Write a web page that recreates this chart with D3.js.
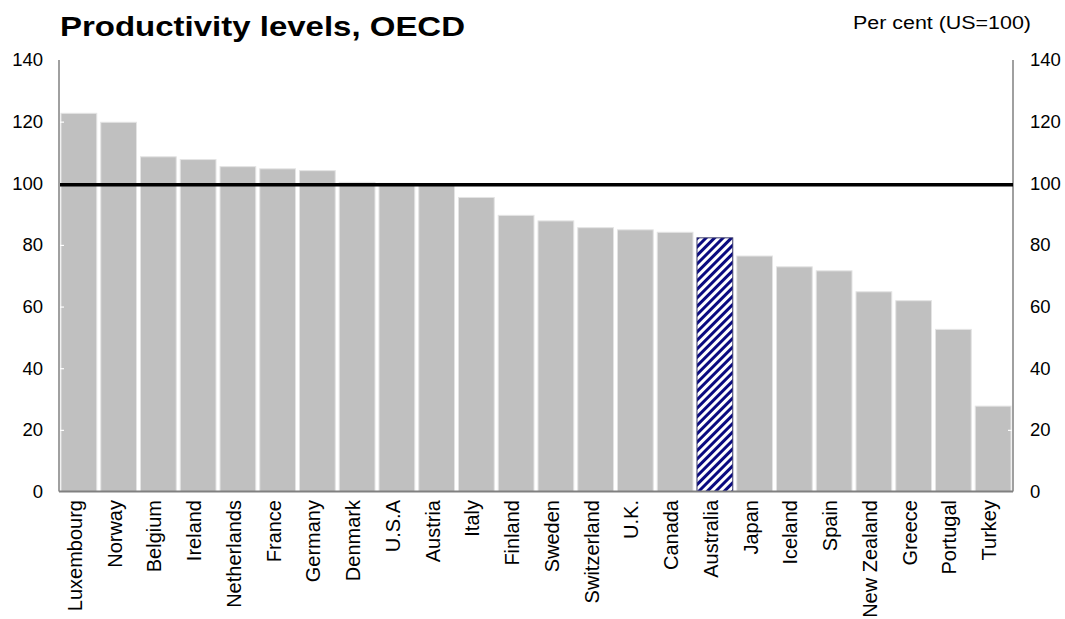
<!DOCTYPE html>
<html>
<head>
<meta charset="utf-8">
<script src="https://cdn.jsdelivr.net/npm/d3@7"></script>
<style>
  html, body { margin: 0; padding: 0; background: #fff; }
  svg { display: block; font-family: "Liberation Sans", Arial, sans-serif; }
</style>
</head>
<body>
<svg id="chart" width="1065" height="619"></svg>
<script>
// Labour productivity by country, per cent of the US level
const countries = ["Luxembourg", "Norway", "Belgium", "Ireland", "Netherlands", "France",
  "Germany", "Denmark", "U.S.A", "Austria", "Italy", "Finland", "Sweden", "Switzerland",
  "U.K.", "Canada", "Australia", "Japan", "Iceland", "Spain", "New Zealand", "Greece",
  "Portugal", "Turkey"];
const levels = [122.7, 119.8, 108.6, 107.7, 105.4, 104.7, 104.1, 100.3, 100, 99.4, 95.4,
  89.6, 87.8, 85.6, 84.9, 84.1, 82.3, 76.4, 72.9, 71.6, 64.8, 61.9, 52.6, 27.7];
const highlighted = ["Australia"];
const yTicks = [0, 20, 40, 60, 80, 100, 120, 140];
const usLevel = [100];

const svg = d3.select("#chart");
const plotLeft = 59, plotRight = 1013, plotTop = 60, plotBottom = 491.5;

const x = d3.scaleBand().domain(countries).range([plotLeft, plotRight])
  .paddingInner(0.1).paddingOuter(0.05);
const y = d3.scaleLinear().domain([0, 140]).range([plotBottom, plotTop]);

// Hatched fill for the highlighted country
const defs = svg.append("defs");
const pat = defs.append("pattern")
  .attr("id", "hatch").attr("patternUnits", "userSpaceOnUse")
  .attr("width", 6).attr("height", 6)
  .attr("patternTransform", "rotate(45)");
pat.append("rect").attr("width", 6).attr("height", 6).attr("fill", "#fff");
pat.append("rect").attr("width", 3).attr("height", 6).attr("fill", "#0a0a80");

const data = countries.map((c, i) => ({ country: c, value: levels[i] }));

svg.append("g").selectAll("rect").data(data).join("rect")
  .attr("x", d => x(d.country))
  .attr("width", x.bandwidth())
  .attr("y", d => y(d.value))
  .attr("height", d => y(0) - y(d.value))
  .attr("fill", d => highlighted.includes(d.country) ? "url(#hatch)" : "#c0c0c0")
  .attr("stroke", d => highlighted.includes(d.country) ? "#3a3a6a" : "#e4e4e4")
  .attr("stroke-width", 1);

// Axes: grey frame lines with short white inward ticks
const leftAxis = d3.axisLeft(y).tickValues(yTicks).tickSize(-5).tickPadding(16);
const rightAxis = d3.axisRight(y).tickValues(yTicks).tickSize(-5).tickPadding(17);

function styleAxis(g) {
  g.select(".domain").remove();
  g.selectAll(".tick line").attr("stroke", "#fff").attr("stroke-width", 1.2);
  g.selectAll(".tick text").attr("fill", "#000").style("font-size", "18.5px")
    .style("font-family", "'Liberation Sans', Arial, sans-serif");
}
svg.append("g").attr("transform", `translate(${plotLeft},0)`).call(leftAxis).call(styleAxis);
svg.append("g").attr("transform", `translate(${plotRight},0)`).call(rightAxis).call(styleAxis);

svg.append("line").attr("x1", plotLeft).attr("x2", plotLeft).attr("y1", plotTop).attr("y2", plotBottom)
  .attr("stroke", "#808080").attr("stroke-width", 1.5);
svg.append("line").attr("x1", plotRight).attr("x2", plotRight).attr("y1", plotTop).attr("y2", plotBottom)
  .attr("stroke", "#808080").attr("stroke-width", 1.5);
svg.append("line").attr("x1", plotLeft).attr("x2", plotRight).attr("y1", plotBottom).attr("y2", plotBottom)
  .attr("stroke", "#808080").attr("stroke-width", 2);

// US = 100 reference line
svg.append("g").selectAll("line").data(usLevel).join("line")
  .attr("x1", plotLeft + 1).attr("x2", plotRight)
  .attr("y1", d => y(d) + 1.5).attr("y2", d => y(d) + 1.5)
  .attr("stroke", "#000").attr("stroke-width", 3.5);

// Country labels, rotated
svg.append("g").selectAll("text").data(countries).join("text")
  .attr("transform", c => `translate(${x(c) + x.bandwidth() / 2 + 3},500) rotate(-90)`)
  .attr("text-anchor", "end")
  .style("font-size", "20px")
  .attr("fill", "#000")
  .text(c => c);

// Titles (set wide, as in the original artwork)
svg.append("text").attr("x", 60).attr("y", 36)
  .style("font-size", "28px").style("font-weight", "bold").attr("fill", "#000")
  .attr("textLength", 405).attr("lengthAdjust", "spacingAndGlyphs")
  .text("Productivity levels, OECD");
svg.append("text").attr("x", 853).attr("y", 29)
  .style("font-size", "18px").attr("fill", "#000")
  .attr("textLength", 178).attr("lengthAdjust", "spacingAndGlyphs")
  .text("Per cent (US=100)");
</script>
</body>
</html>
